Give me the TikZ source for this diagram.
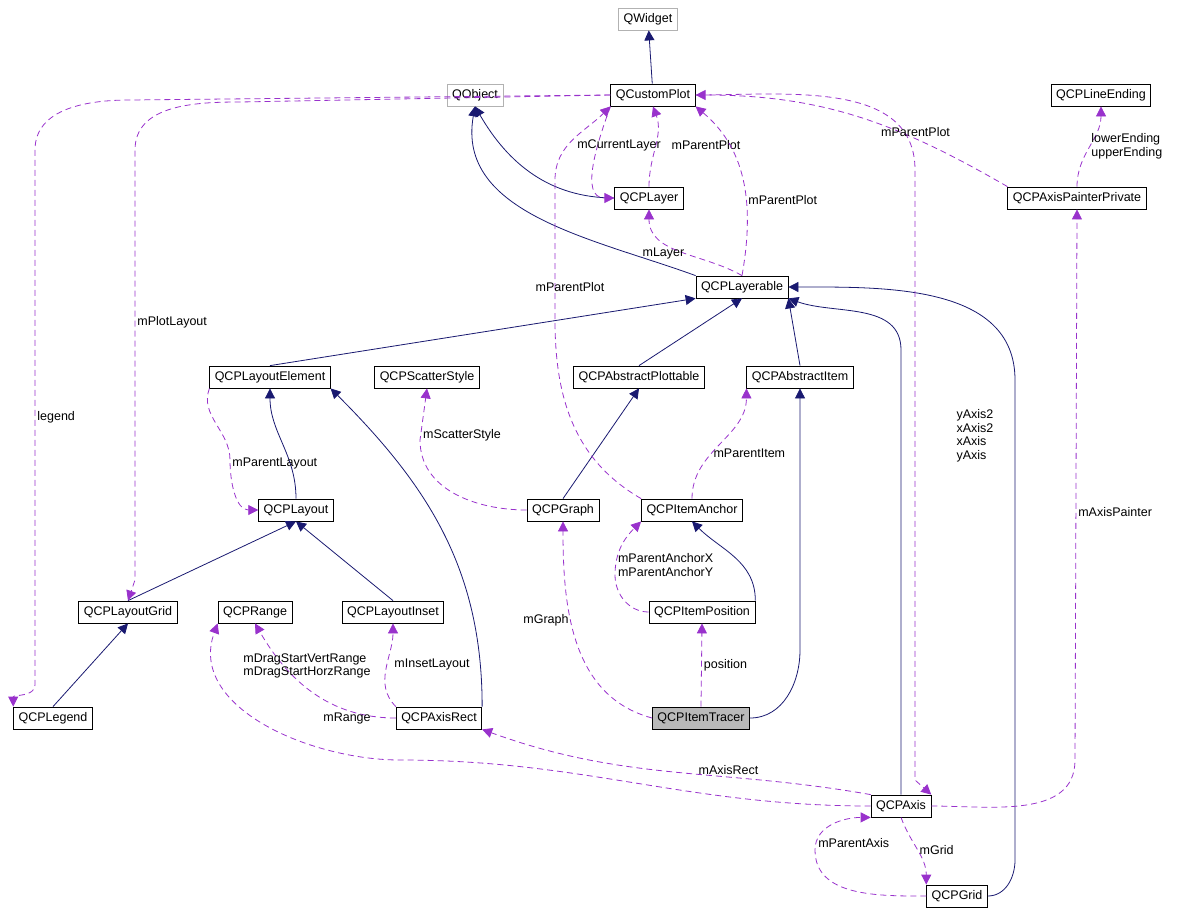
\documentclass[tikz,border=0pt]{standalone}
\usepackage{fontspec}
\setmainfont{Liberation Sans}
\usetikzlibrary{arrows.meta}
\begin{document}
\begin{tikzpicture}[x=1pt,y=1pt,
 box/.style={draw,thick,fill=white,minimum height=22pt,inner xsep=5pt,inner ysep=0pt,font=\fontsize{12.5}{15}\selectfont},
 gbox/.style={box,draw=gray!60},
 inh/.style={draw={rgb,255:red,25;green,25;blue,112},thick,-{Triangle[length=10pt,width=10pt]}},
 use/.style={draw={rgb,255:red,153;green,50;blue,204},thick,dash pattern=on 6pt off 4pt,-{Triangle[length=10pt,width=10pt]}},
 lab/.style={font=\fontsize{12.5}{13.5}\selectfont,align=left,inner sep=2pt}]
\useasboundingbox (0,0) rectangle (1177,-916);
\node[gbox] (qw) at (648,-19) {QWidget};
\node[gbox] (qo) at (475,-95) {QObject};
\node[box] (cp) at (653,-95) {QCustomPlot};
\node[box] (le) at (1101,-95) {QCPLineEnding};
\node[box] (ly) at (649,-198) {QCPLayer};
\node[box] (app) at (1077,-198) {QCPAxisPainterPrivate};
\node[box] (lb) at (742,-287) {QCPLayerable};
\node[box] (lel) at (270,-377) {QCPLayoutElement};
\node[box] (ss) at (427,-377) {QCPScatterStyle};
\node[box] (ap) at (639,-377) {QCPAbstractPlottable};
\node[box] (ai) at (800,-377) {QCPAbstractItem};
\node[box] (lo) at (296,-510) {QCPLayout};
\node[box] (gr) at (563,-510) {QCPGraph};
\node[box] (ia) at (692,-510) {QCPItemAnchor};
\node[box] (lg) at (128,-612) {QCPLayoutGrid};
\node[box] (rg) at (255,-612) {QCPRange};
\node[box] (li) at (393,-612) {QCPLayoutInset};
\node[box] (ip) at (702,-612) {QCPItemPosition};
\node[box] (leg) at (53,-718) {QCPLegend};
\node[box] (ar) at (439,-718) {QCPAxisRect};
\node[box,fill=gray!55] (it) at (701,-718) {QCPItemTracer};
\node[box] (ax) at (901,-806) {QCPAxis};
\node[box] (gd) at (957,-896) {QCPGrid};
% inheritance
\draw[inh] (cp) -- (qw);
\draw[inh] (ly.west) to[out=180,in=-60] (qo.south);
\draw[inh] (lb.north west) to[out=160,in=-100] (qo.south);
\draw[inh] (lel.north) -- (lb.south west);
\draw[inh] (ap.north) -- (lb.south);
\draw[inh] (ai.north) -- (lb.south east);
\draw[inh] (ax.north) -- (901,-350) to[out=90,in=-20] (lb.south east);
\draw[inh] (gd.east) to[out=0,in=-90] (1015,-860) -- (1015,-380) to[out=90,in=0] (lb.east);
\draw[inh] (lo.north) to[out=90,in=-90] (lel.south);
\draw[inh] (ar.north east) to[out=90,in=-45] (lel.south east);
\draw[inh] (lg.north) -- (lo.south);
\draw[inh] (li.north) -- (lo.south);
\draw[inh] (leg.north) -- (lg.south);
\draw[inh] (gr.north) -- (ap.south);
\draw[inh] (ip.north east) to[out=90,in=-45] (ia.south);
\draw[inh] (it.east) to[out=0,in=-90] (800,-650) -- (ai.south);
% usage
\draw[use] (ly.north) to[out=90,in=-70] (cp.south);
\node[lab] at (706,-145) {mParentPlot};
\draw[use] (cp.south west) to[out=-110,in=180] (ly.west);
\node[lab] at (619,-145) {mCurrentLayer};
\draw[use] (lb.north) to[out=80,in=-40] node[lab,right,pos=0.4]{mParentPlot} (cp.south east);
\draw[use] (lb.north) to[out=150,in=-90] node[lab,left,pos=0.45]{mLayer} (ly.south);
\draw[use] (cp.west) -- (130,-100) to[out=180,in=90] (35,-150) -- node[lab,right,pos=0.5]{legend} (35,-685) to[out=-90,in=90] (leg.north west);
\draw[use] (cp.west) -- (240,-102) to[out=180,in=90] (135,-150) -- node[lab,right,pos=0.4]{mPlotLayout} (135,-580) -- (lg.north);
\draw[use] (ia.north west) to[out=150,in=-90] (555,-320) -- (555,-180) to[out=90,in=-135] (cp.south west);
\node[lab] at (570,-287) {mParentPlot};
\draw[use] (cp.east) to[out=0,in=90] (915,-170) -- (915,-780) -- (ax.north east);
\node[lab] at (975,-436) {yAxis2\\xAxis2\\xAxis\\yAxis};
\draw[use] (app.north west) to[out=150,in=0] node[lab,pos=0.3,above]{mParentPlot} (cp.east);
\draw[use] (app.north) to[out=90,in=-90] node[lab,right,pos=0.5]{lowerEnding\\upperEnding} (le.south);
\draw[use] (ax.east) to[out=0,in=-90] (1075,-760) -- node[lab,right,pos=0.45]{mAxisPainter} (app.south);
\draw[use] (lel.south west) to[out=-110,in=90] (230,-460) to[out=-90,in=180] node[lab,right,pos=0.05]{mParentLayout} (lo.west);
\draw[use] (gr.west) to[out=180,in=-90] (420,-440) -- node[lab,right,pos=0.1]{mScatterStyle} (ss.south);
\draw[use] (ia.north) to[out=90,in=-90] node[lab,right,pos=0.4]{mParentItem} (ai.south west);
\draw[use] (ip.west) to[out=180,in=-90] (615,-575) to[out=90,in=-135] node[lab,right,pos=0.15]{mParentAnchorX\\mParentAnchorY} (ia.south west);
\draw[use] (it.west) to[out=165,in=-90] node[lab,left,pos=0.6]{mGraph} (gr.south);
\draw[use] (it.north) -- node[lab,right,pos=0.5]{position} (ip.south);
\draw[use] (ar.north west) to[out=135,in=-90] (li.south);
\node[lab] at (432,-664) {mInsetLayout};
\draw[use] (ar.west) to[out=180,in=-60] (rg.south);
\node[lab] at (307,-666) {mDragStartVertRange\\mDragStartHorzRange};
\draw[use] (ax.west) to[out=180,in=0] (400,-760) to[out=180,in=-110] (rg.south west);
\node[lab] at (347,-718) {mRange};
\draw[use] (ax.north west) to[out=170,in=-20] node[lab,pos=0.35,above]{mAxisRect} (ar.south east);
\draw[use] (ax.south) to[out=-70,in=90] node[lab,right,pos=0.5]{mGrid} (gd.north west);
\draw[use] (gd.west) to[out=180,in=-90] (815,-850) to[out=90,in=180] node[lab,right,pos=0.1]{mParentAxis} (ax.south west);
\end{tikzpicture}
\end{document}
